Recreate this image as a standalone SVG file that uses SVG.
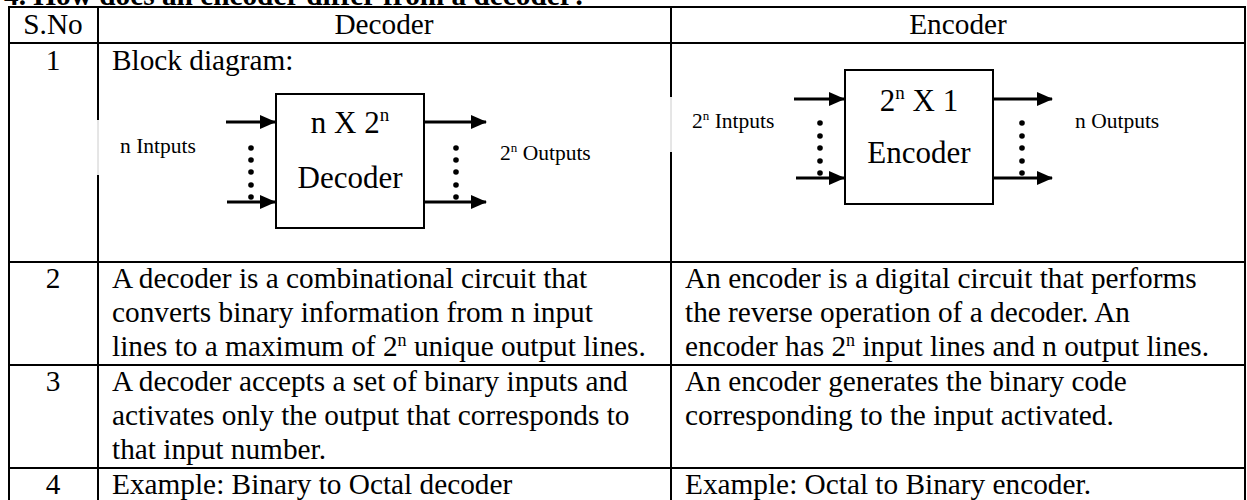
<svg xmlns="http://www.w3.org/2000/svg" width="1247" height="500" viewBox="0 0 1247 500">
<style>
text{font-family:"Liberation Serif","Times New Roman",serif;fill:#000}
.t{font-size:29.3px}
.b{font-weight:bold}
.c{text-anchor:middle}
.blk{font-size:31px}
.lbl{font-size:21.5px}
.grid{stroke:#000;stroke-width:2;fill:none}
.box{stroke:#000;stroke-width:2;fill:#fff}
.arr{stroke:#000;stroke-width:3;fill:none}
.dot{fill:#000}
</style>
<defs>
<marker id="ah" markerUnits="userSpaceOnUse" markerWidth="16" markerHeight="16" viewBox="0 0 16 16" refX="15" refY="8" orient="auto">
<path d="M0,1 L16,8 L0,15 Z" fill="#000"/>
</marker>
</defs>
<rect width="1247" height="500" fill="#fff"/>
<text class="t b" x="4" y="5">4. How does an encoder differ from a decoder?</text>

<g id="table" class="grid">
<rect x="9" y="7" width="1236" height="500"/>
<line x1="98" y1="7" x2="98" y2="500"/>
<line x1="671" y1="7" x2="671" y2="500"/>
<line x1="9" y1="43" x2="1245" y2="43"/>
<line x1="9" y1="262" x2="1245" y2="262"/>
<line x1="9" y1="365" x2="1245" y2="365"/>
<line x1="9" y1="468" x2="1245" y2="468"/>
</g>
<g id="label-overlaps">
<rect x="96" y="120" width="4" height="55" fill="#fff"/>
<line x1="98" y1="120" x2="98" y2="175" stroke="#ccc" stroke-width="1"/>
<rect x="669" y="97" width="4" height="55" fill="#fff"/>
<line x1="671" y1="97" x2="671" y2="152" stroke="#ccc" stroke-width="1"/>
</g>

<g id="header">
<text class="t c" x="53" y="34">S.No</text>
<text class="t c" x="384" y="34">Decoder</text>
<text class="t c" x="958" y="34">Encoder</text>
</g>

<g id="row1">
<text class="t c" x="53" y="70">1</text>
<text class="t" x="112" y="70">Block diagram:</text>
</g>

<g id="decoder-block">
<rect class="box" x="276" y="94" width="148" height="134"/>
<text class="blk c" x="350" y="133">n X 2<tspan font-size="19" dy="-12">n</tspan></text>
<text class="blk c" x="350" y="188">Decoder</text>
</g>
<g id="decoder-labels">
<text class="lbl" x="120" y="153">n Intputs</text>
<text class="lbl" x="500" y="160">2<tspan font-size="13" dy="-8">n</tspan><tspan dy="8"> Outputs</tspan></text>
</g>

<g id="encoder-block">
<rect class="box" x="845" y="70" width="148" height="134"/>
<text class="blk c" x="919" y="111">2<tspan font-size="19" dy="-12">n</tspan><tspan dy="12"> X 1</tspan></text>
<text class="blk c" x="919" y="163">Encoder</text>
</g>
<g id="encoder-labels">
<text class="lbl" x="692" y="128">2<tspan font-size="13" dy="-8">n</tspan><tspan dy="8"> Intputs</tspan></text>
<text class="lbl" x="1075" y="128">n Outputs</text>
</g>

<g id="connectors">
<line class="arr" x1="226" y1="122" x2="275" y2="122" marker-end="url(#ah)"/>
<line class="arr" x1="227" y1="202" x2="275" y2="202" marker-end="url(#ah)"/>
<line class="arr" x1="425" y1="122" x2="486" y2="122" marker-end="url(#ah)"/>
<line class="arr" x1="425" y1="202" x2="486" y2="202" marker-end="url(#ah)"/>
<line class="arr" x1="794" y1="99" x2="844" y2="99" marker-end="url(#ah)"/>
<line class="arr" x1="796" y1="178" x2="844" y2="178" marker-end="url(#ah)"/>
<line class="arr" x1="994" y1="99" x2="1052" y2="99" marker-end="url(#ah)"/>
<line class="arr" x1="994" y1="178" x2="1052" y2="178" marker-end="url(#ah)"/>
</g>
<g id="dots" class="dot">
<circle cx="251" cy="148" r="2.8"/><circle cx="251" cy="160" r="2.8"/><circle cx="251" cy="172" r="2.8"/><circle cx="251" cy="185" r="2.8"/><circle cx="251" cy="197" r="2.8"/>
<circle cx="456" cy="148" r="2.8"/><circle cx="456" cy="160" r="2.8"/><circle cx="456" cy="172" r="2.8"/><circle cx="456" cy="185" r="2.8"/><circle cx="456" cy="197" r="2.8"/>
<circle cx="820" cy="123" r="2.8"/><circle cx="820" cy="136" r="2.8"/><circle cx="820" cy="148" r="2.8"/><circle cx="820" cy="161" r="2.8"/><circle cx="820" cy="173" r="2.8"/>
<circle cx="1022" cy="123" r="2.8"/><circle cx="1022" cy="136" r="2.8"/><circle cx="1022" cy="148" r="2.8"/><circle cx="1022" cy="161" r="2.8"/><circle cx="1022" cy="173" r="2.8"/>
</g>

<g id="row2">
<text class="t c" x="53" y="288">2</text>
<text class="t" x="112" y="288">A decoder is a combinational circuit that</text>
<text class="t" x="112" y="322">converts binary information from n input</text>
<text class="t" x="112" y="356">lines to a maximum of 2<tspan font-size="18" dy="-10">n</tspan><tspan dy="10"> unique output lines.</tspan></text>
<text class="t" x="685" y="288">An encoder is a digital circuit that performs</text>
<text class="t" x="685" y="322">the reverse operation of a decoder. An</text>
<text class="t" x="685" y="356">encoder has 2<tspan font-size="18" dy="-10">n</tspan><tspan dy="10"> input lines and n output lines.</tspan></text>
</g>

<g id="row3">
<text class="t c" x="53" y="391">3</text>
<text class="t" x="112" y="391">A decoder accepts a set of binary inputs and</text>
<text class="t" x="112" y="425">activates only the output that corresponds to</text>
<text class="t" x="112" y="459">that input number.</text>
<text class="t" x="685" y="391">An encoder generates the binary code</text>
<text class="t" x="685" y="425">corresponding to the input activated.</text>
</g>

<g id="row4">
<text class="t c" x="53" y="494">4</text>
<text class="t" x="112" y="494">Example: Binary to Octal decoder</text>
<text class="t" x="685" y="494">Example: Octal to Binary encoder.</text>
</g>
</svg>
